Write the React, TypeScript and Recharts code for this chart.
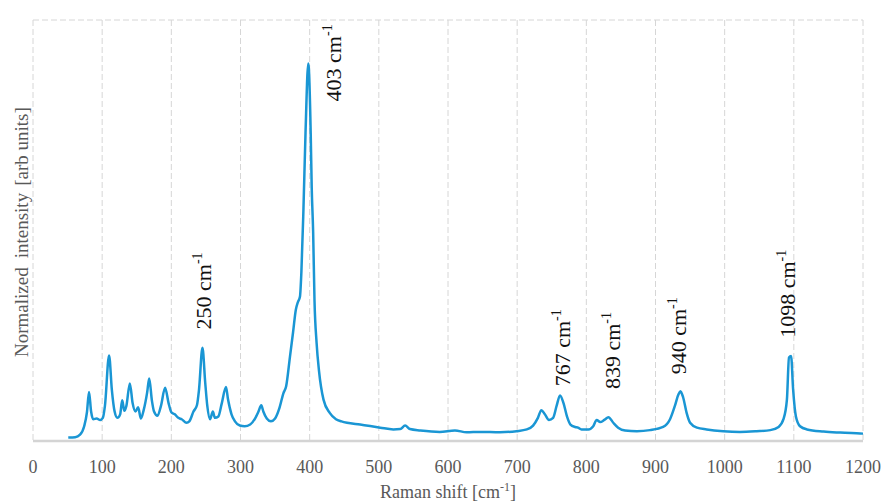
import React from "react";
import { LineChart, Line, XAxis, YAxis, CartesianGrid, ReferenceDot, Label } from "recharts";

const ramanShift = [
  51, 61, 68, 74, 78, 81, 84, 87, 92, 97, 101, 104, 110, 114, 118, 122, 126, 129, 132, 135,
  140, 144, 148, 152, 156, 160, 165, 168, 172, 175, 180, 185, 191, 196, 200, 205, 210, 215,
  222, 226, 232, 237, 240, 245, 249, 252, 256, 260, 263, 268, 273, 279, 282, 287, 292, 299,
  306, 314, 321, 326, 330, 333, 338, 344, 350, 356, 362, 366, 371.5, 376, 380, 383, 386, 388,
  391, 394, 398, 401.5, 403, 405, 407, 410, 413.5, 420, 429, 438, 446, 454, 473, 502, 521,
  531, 538, 545, 560, 588, 610, 627, 646, 675, 699, 714, 723, 730, 735, 740, 746, 752, 757,
  762, 767, 772, 777, 784, 788, 793, 803, 810, 815, 820, 826, 832, 839, 846, 856, 873, 892,
  911, 921, 928, 933, 936, 940, 945, 950, 960, 974, 998, 1022, 1046, 1066, 1078, 1085, 1090,
  1093, 1096, 1099, 1103, 1109, 1119, 1143, 1167, 1196, 1200,
];

const intensity = [
  0.05, 0.055, 0.09, 0.21, 0.41, 0.7, 0.42, 0.31, 0.32, 0.3, 0.33, 0.5, 1.22, 0.73, 0.42, 0.33,
  0.38, 0.58, 0.43, 0.5, 0.82, 0.54, 0.42, 0.48, 0.32, 0.44, 0.69, 0.89, 0.57, 0.42, 0.36, 0.5,
  0.76, 0.54, 0.41, 0.38, 0.33, 0.31, 0.26, 0.28, 0.42, 0.51, 0.73, 1.33, 0.83, 0.5, 0.31, 0.42,
  0.33, 0.35, 0.54, 0.77, 0.59, 0.38, 0.28, 0.22, 0.21, 0.235, 0.32, 0.42, 0.51, 0.42, 0.32,
  0.28, 0.32, 0.46, 0.68, 0.78, 1.2, 1.55, 1.87, 1.98, 2.06, 2.4, 3.3, 4.39, 5.38, 4.39, 3.6,
  2.99, 2.0, 1.4, 1.0, 0.59, 0.4, 0.31, 0.28, 0.26, 0.235, 0.19, 0.165, 0.17, 0.22, 0.17, 0.15,
  0.13, 0.15, 0.125, 0.13, 0.125, 0.14, 0.165, 0.22, 0.33, 0.44, 0.38, 0.3, 0.33, 0.5, 0.65,
  0.54, 0.35, 0.235, 0.2, 0.19, 0.165, 0.165, 0.21, 0.3, 0.27, 0.3, 0.34, 0.26, 0.19, 0.15,
  0.14, 0.155, 0.2, 0.31, 0.5, 0.66, 0.71, 0.62, 0.4, 0.26, 0.19, 0.165, 0.14, 0.13, 0.14,
  0.155, 0.2, 0.31, 0.59, 1.19, 1.21, 0.73, 0.35, 0.21, 0.165, 0.135, 0.12, 0.107, 0.105,
];

const xTicks = [0, 100, 200, 300, 400, 500, 600, 700, 800, 900, 1000, 1100, 1200];
const yTicks = [0, 1, 2, 3, 4, 5, 6];

const peakLabels = ["250", "403", "767", "839", "940", "1098"];
const peakLabelX = [245.8, 433.7, 764.8, 837, 932.5, 1090];
const peakLabelY = [1.59, 4.84, 0.78, 0.74, 0.95, 1.47];

const data = ramanShift.map((x, i) => ({ x, y: intensity[i] }));

const SERIF = "Liberation Serif, DejaVu Serif, serif";

const makePeakShape = (text: string) => (props: any) => {
  const { cx, cy } = props;
  if (cx == null || cy == null) return null;
  return (
    <text
      x={cx}
      y={cy}
      transform={`rotate(-90 ${cx} ${cy})`}
      textAnchor="start"
      style={{ fontFamily: SERIF, fontSize: 22 }}
      fill="#111"
    >
      <tspan dy="0.35em">{text} cm</tspan>
      <tspan dy={-9} style={{ fontSize: 14 }}>-1</tspan>
    </text>
  );
};

const XTick = (props: any) => {
  const { x, y, payload } = props;
  return (
    <text
      x={x}
      y={y}
      dy="0.71em"
      textAnchor="middle"
      fill="#595959"
      style={{ fontFamily: SERIF, fontSize: 18 }}
    >
      {payload.value}
    </text>
  );
};

const XTitle = (props: any) => {
  const { viewBox } = props;
  const cx = viewBox.x + viewBox.width / 2;
  const by = viewBox.y + viewBox.height - 6;
  return (
    <text x={cx} y={by} textAnchor="middle" fill="#595959" style={{ fontFamily: SERIF, fontSize: 18 }}>
      <tspan>Raman shift [cm</tspan>
      <tspan dy={-7} style={{ fontSize: 12 }}>-1</tspan>
      <tspan dy={7}>]</tspan>
    </text>
  );
};

const YTitle = () => (
  <text
    x={28}
    y={357}
    transform="rotate(-90 28 357)"
    textAnchor="start"
    fill="#595959"
    style={{ fontFamily: SERIF, fontSize: 19 }}
  >
    <tspan>Normalized</tspan>
    <tspan dx={9}>intensity</tspan>
    <tspan dx={7}>[arb units]</tspan>
  </text>
);

export default function App() {
  return (
    <div style={{ position: "absolute", left: 0, top: 0, width: 886, height: 504, background: "#fff" }}>
      <LineChart
        width={886}
        height={504}
        data={data}
        margin={{ top: 20, right: 23, left: 33, bottom: 0 }}
      >
        <CartesianGrid stroke="#d6d6d6" strokeDasharray="6 3" strokeWidth={1} />
        <XAxis
          dataKey="x"
          type="number"
          domain={[0, 1200]}
          ticks={xTicks}
          interval={0}
          height={63}
          tickLine={false}
          tickSize={0}
          tickMargin={19}
          axisLine={{ stroke: "#d4d4d4", strokeWidth: 2.5 }}
          tick={<XTick />}
        >
          <Label content={<XTitle />} position="insideBottom" />
        </XAxis>
        <YAxis
          type="number"
          domain={[0, 6]}
          ticks={yTicks}
          width={0}
          tick={false}
          tickLine={false}
          axisLine={false}
        />
        <Line
          type="monotone"
          dataKey="y"
          stroke="#1a96d4"
          strokeWidth={2.5}
          dot={false}
          isAnimationActive={false}
        />
        {peakLabels.map((t, i) => (
          <ReferenceDot
            key={t}
            x={peakLabelX[i]}
            y={peakLabelY[i]}
            r={0}
            shape={makePeakShape(t)}
          />
        ))}
        <YTitle />
      </LineChart>
    </div>
  );
}
